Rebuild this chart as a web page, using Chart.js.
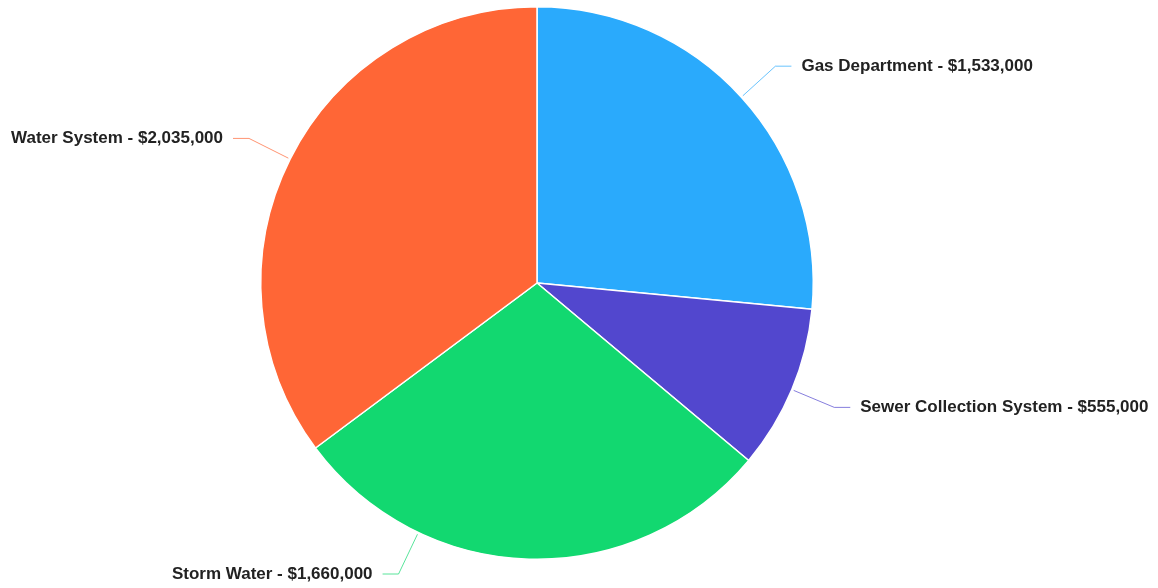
<!DOCTYPE html>
<html>
<head>
<meta charset="utf-8">
<script src="https://cdn.jsdelivr.net/npm/chart.js@4.4.0/dist/chart.umd.min.js"></script>
<style>
  html, body { margin: 0; padding: 0; background: #ffffff; }
  #wrap { width: 1158px; height: 588px; position: relative; }
</style>
</head>
<body>
<div id="wrap"><canvas id="pieChart"></canvas></div>
<script>
// chart data
var departments = ['Gas Department', 'Sewer Collection System', 'Storm Water', 'Water System'];
var budgets = [1533000, 555000, 1660000, 2035000];
var sliceColors = ['#2AAAFC', '#5247CE', '#12D870', '#FF6636'];

function money(v) {
    return '$' + v.toLocaleString('en-US');
}

// draws the outside labels with thin leader lines
var outsideLabels = {
    id: 'outsideLabels',
    afterDatasetsDraw(chart) {
        var ctx = chart.ctx;
        var meta = chart.getDatasetMeta(0);
        var H = chart.height;
        ctx.save();
        ctx.font = 'bold 17px "Liberation Sans", Arial, sans-serif';
        ctx.textBaseline = 'middle';
        meta.data.forEach((arc, i) => {
            var p = arc.getProps(['x', 'y', 'startAngle', 'endAngle', 'outerRadius'], true);
            var mid = (p.startAngle + p.endAngle) / 2;
            var L = p.outerRadius + 46;
            var ax = p.x + Math.cos(mid) * L;
            var ay = p.y + Math.sin(mid) * L;
            var maxY = H - 14;
            if (ay > maxY) {
                var dy = maxY - p.y;
                var dx = Math.sqrt(Math.max(L * L - dy * dy, 0));
                ax = Math.cos(mid) < 0 ? p.x - dx : p.x + dx;
                ay = maxY;
            }
            var ux = ax - p.x, uy = ay - p.y;
            var len = Math.sqrt(ux * ux + uy * uy);
            var sx = p.x + ux / len * (p.outerRadius + 2);
            var sy = p.y + uy / len * (p.outerRadius + 2);
            var right = ax >= p.x;
            var tx = right ? ax + 16 : ax - 16;

            ctx.strokeStyle = sliceColors[i];
            ctx.globalAlpha = 0.7;
            ctx.lineWidth = 1;
            ctx.beginPath();
            ctx.moveTo(sx, sy);
            ctx.lineTo(ax, ay);
            ctx.lineTo(tx, ay);
            ctx.stroke();
            ctx.globalAlpha = 1;

            ctx.fillStyle = '#222222';
            ctx.textAlign = right ? 'left' : 'right';
            ctx.fillText(departments[i] + ' - ' + money(budgets[i]), right ? tx + 10 : tx - 10, ay);
        });
        ctx.restore();
    }
};

var ctx = document.getElementById('pieChart');
var chart = new Chart(ctx, {
    type: 'pie',
    data: {
        labels: departments,
        datasets: [{
            data: budgets,
            backgroundColor: sliceColors,
            borderColor: '#ffffff',
            borderWidth: 1.5
        }]
    },
    options: {
        responsive: true,
        maintainAspectRatio: false,
        animation: false,
        layout: { padding: { top: 6, bottom: 28, left: 0, right: 84 } },
        plugins: {
            legend: { display: false },
            tooltip: { enabled: false }
        }
    },
    plugins: [outsideLabels]
});
</script>
</body>
</html>
